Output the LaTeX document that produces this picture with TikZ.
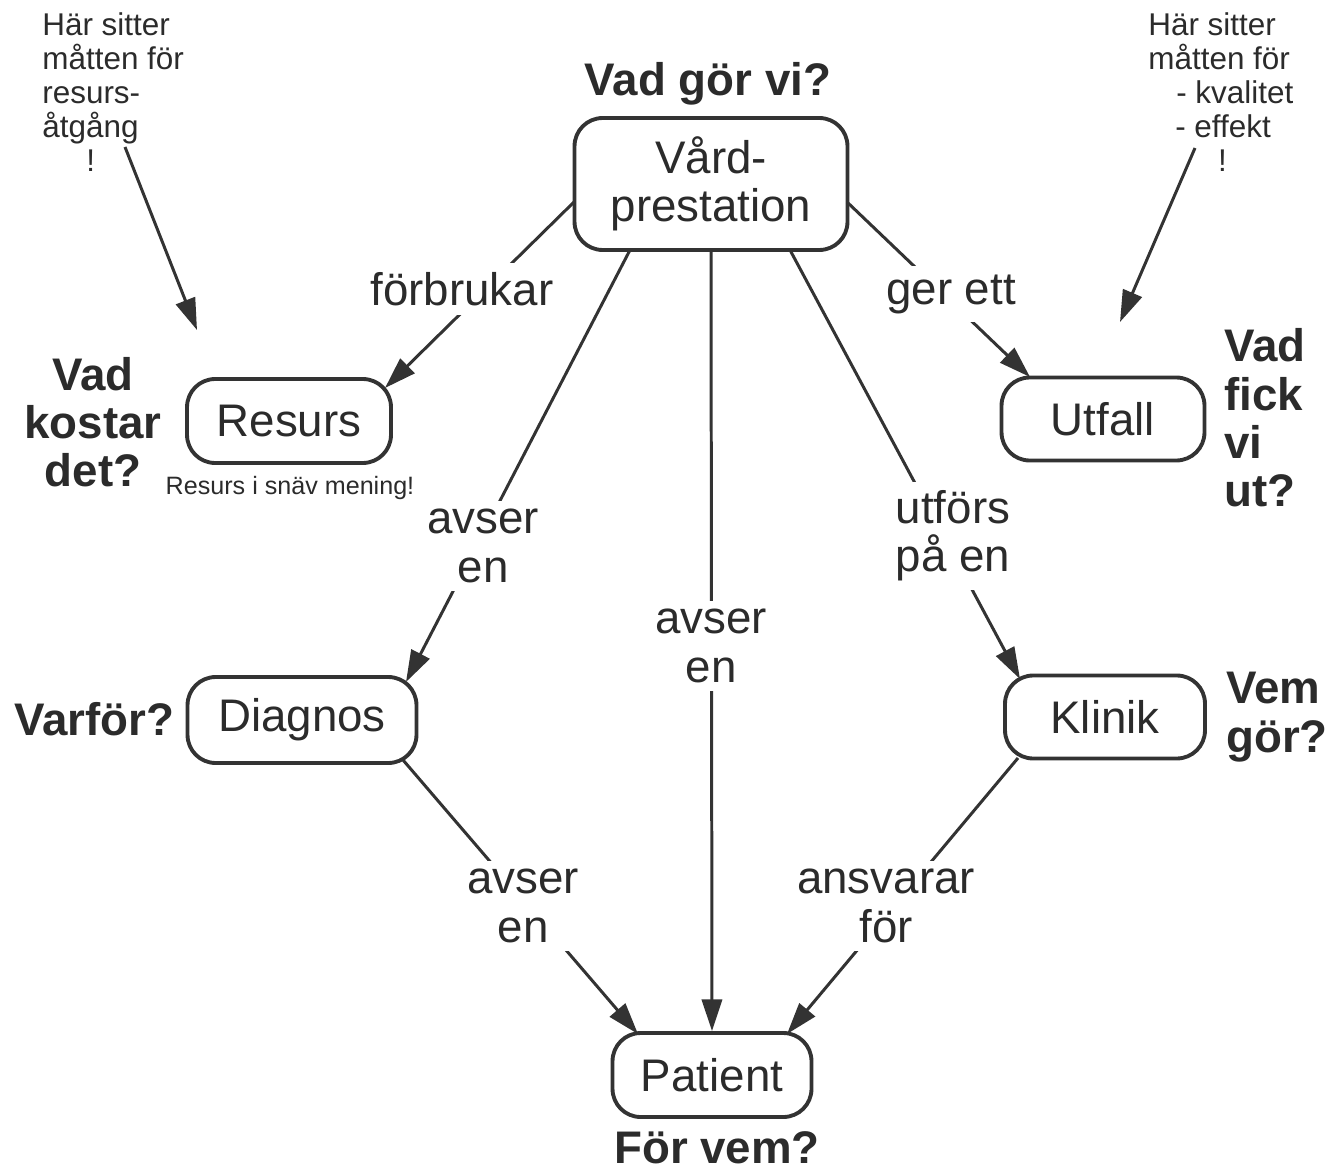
\documentclass[tikz,border=0pt]{standalone}
\usepackage{fontspec}
\setmainfont{Liberation Sans}
\usetikzlibrary{arrows.meta,calc}
\definecolor{ink}{HTML}{2B2B2B}
\definecolor{linec}{HTML}{333333}
\tikzset{
  box/.style={draw=linec, line width=2.2pt, rounded corners=16pt, inner sep=0pt,
    align=center, text=ink, font=\fontsize{26}{27.5}\selectfont},
  lab/.style={fill=white, inner sep=5pt, align=center, text=ink,
    font=\fontsize{26}{27.5}\selectfont},
  quest/.style={inner sep=0pt, text=ink, font=\fontsize{26}{27.5}\selectfont\bfseries},
  note/.style={inner sep=0pt, align=left, text=ink, font=\fontsize{17.9}{19.3}\selectfont},
  conn/.style={draw=linec, line width=1.7pt, -{Triangle[length=18pt,width=11.5pt]}},
}
\begin{document}
\begin{tikzpicture}[x=0.02cm,y=-0.02cm]
\useasboundingbox (0,0) rectangle (1344,1172);

% concept boxes
\node[box, minimum width=5.46cm, minimum height=2.64cm] (vard) at (711,184) {Vård-\\prestation};
\node[box, minimum width=4.08cm, minimum height=1.68cm] (resurs) at (289,421) {Resurs};
\node[box, minimum width=4.06cm, minimum height=1.66cm] (utfall) at (1103,419) {Utfall};
\node[box, minimum width=4.58cm, minimum height=1.72cm] (diagnos) at (302,720) {Diagnos};
\node[box, minimum width=4.00cm, minimum height=1.66cm] (klinik) at (1105,717) {Klinik};
\node[box, minimum width=3.98cm, minimum height=1.68cm] (patient) at (712,1075) {Patient};

% relations
\draw[conn] ($(vard.center)+(-137,18)$) -- ($(resurs.center)+(96,-33)$);
\draw[conn] ($(vard.center)+(136,18)$) -- ($(utfall.center)+(-73,-42)$);
\draw[conn] ($(vard.center)+(-81,66)$) -- ($(diagnos.center)+(104,-38)$);
\draw[conn] (vard.south) -- (patient.north);
\draw[conn] ($(vard.center)+(79,66)$) -- ($(klinik.center)+(-85,-38)$);
\draw[conn] ($(diagnos.center)+(101,40)$) -- ($(patient.center)+(-74,-41)$);
\draw[conn] ($(klinik.center)+(-87,41)$) -- ($(patient.center)+(75,-41)$);

% relation labels
\node[lab] (l1) at (462,289) {förbrukar};
\node[lab] (l2) at (951,294) {ger ett};
\node[lab] (l3) at (483,546) {avser\\en};
\node[lab] (l4) at (711,646) {avser\\en};
\node[lab] (l5) at (953,536) {utförs\\på en};
\node[lab] (l6) at (523,906) {avser\\en};
\node[lab] (l7) at (886,906) {ansvarar\\för};

% questions
\node[quest, anchor=base] (q1) at (708,96) {Vad gör vi?};
\node[quest, align=center] (q2) at (93,422) {Vad\\kostar\\det?};
\node[quest, align=left, anchor=west] (q3) at (1224,418) {Vad\\fick\\vi\\ut?};
\node[quest, anchor=base] (q4) at (94.5,735) {Varför?};
\node[quest, align=left, anchor=west] (q5) at (1226,717) {Vem\\gör?};
\node[quest, anchor=base] (q6) at (717,1163) {För vem?};
\node[inner sep=0pt, text=ink, font=\fontsize{14.3}{16}\selectfont, anchor=base] (sn) at (290,494) {Resurs i snäv mening!};

% measurement notes
\node[note, anchor=north west] (noteL) at (42,12.5) {Här sitter\\måtten för\\resurs-\\åtgång\\\hspace*{25pt}!};
\node[note, anchor=north west] (noteR) at (1148,12.5) {Här sitter\\måtten för\\\hspace*{15.9pt}- kvalitet\\\hspace*{15.3pt}- effekt\\\hspace*{39.7pt}!};
\coordinate (naL) at (125,147);
\coordinate (nbL) at (197,330);
\coordinate (naR) at (1195,148);
\coordinate (nbR) at (1120,322);
\draw[conn] (naL) -- (nbL);
\draw[conn] (naR) -- (nbR);
\end{tikzpicture}
\end{document}
